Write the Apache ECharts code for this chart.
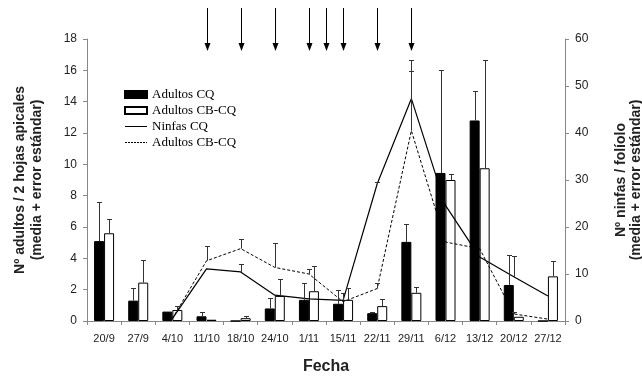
<!DOCTYPE html>
<html>
<head>
<meta charset="utf-8">
<script src="https://cdn.jsdelivr.net/npm/echarts@6/dist/echarts.min.js"></script>
<style>
  html, body { margin: 0; padding: 0; background: #fff; }
  #chart { width: 642px; height: 378px; }
</style>
</head>
<body>
<div id="chart"></div>
<script>
// fechas de muestreo
var fechas = ['20/9', '27/9', '4/10', '11/10', '18/10', '24/10', '1/11', '15/11', '22/11', '29/11', '6/12', '13/12', '20/12', '27/12'];

// adultos / 2 hojas apicales (eje izquierdo)
var adultosCQ = [5.1, 1.3, 0.6, 0.3, 0, 0.8, 1.35, 1.1, 0.5, 5.05, 9.45, 12.8, 2.3, 0];
var adultosCQErr = [7.6, 2.1, null, 0.6, null, 1.45, 2.4, 2.0, 0.6, 6.2, 16.0, 14.65, 4.2, null];
var adultosCBCQ = [5.6, 2.45, 0.7, 0.08, 0.18, 1.6, 1.9, 1.35, 0.95, 1.8, 9.0, 9.75, 0.27, 2.85];
var adultosCBCQErr = [6.5, 3.9, 0.95, null, 0.3, 2.65, 3.5, 2.1, 1.4, 2.2, 9.4, 16.65, null, 3.8];

// ninfas / foliolo (eje derecho)
var ninfasCQ = [null, null, 0.5, 11.1, 10.45, 5.5, 4.7, 4.4, 29.2, 47.3, 24.6, 13.6, 9.4, 5.3];
var ninfasCQErr = [null, null, null, null, 12.2, null, null, 6.0, 29.6, 55.5, null, null, 13.9, null];
var ninfasCBCQ = [null, null, 0.5, 12.8, 15.4, 11.4, 10.0, 4.1, 6.9, 40.5, 16.8, 15.4, 1.5, 0.4];
var ninfasCBCQErr = [null, null, null, 15.9, 17.4, 16.7, 11.0, null, 8.0, 53.1, null, null, 2.0, null];

// flechas (posicion en indice de fecha; 6.5 = 8/11)
var flechas = [3, 4, 5, 6, 6.5, 7, 8, 9];

var chart = echarts.init(document.getElementById('chart'));

function errData(vals, errs) {
    var res = [];
    for (var i = 0; i < vals.length; i++) {
        if (errs[i] != null && vals[i] != null) res.push([i, vals[i], errs[i]]);
    }
    return res;
}

function errRender(offset) {
    return function (params, api) {
        var p = api.coord([api.value(0), api.value(1)]);
        var t = api.coord([api.value(0), api.value(2)]);
        var cx = Math.round(p[0] + offset) + 0.5;
        var ty = Math.round(t[1]) + 0.5;
        var st = { stroke: '#333', lineWidth: 1 };
        return {
            type: 'group',
            children: [
                { type: 'line', shape: { x1: cx, y1: p[1], x2: cx, y2: ty }, style: st },
                { type: 'line', shape: { x1: cx - 2.5, y1: ty, x2: cx + 2.5, y2: ty }, style: st }
            ]
        };
    };
}

var ejeFont = 'Liberation Sans, Arial, sans-serif';
var sinSimbolo = { color: 'rgba(0,0,0,0)', borderWidth: 0 };

var option = {
    animation: false,
    backgroundColor: '#fff',
    grid: { left: 87, right: 77, top: 39, bottom: 57, outerBoundsMode: 'none', containLabel: false },
    legend: {
        orient: 'vertical',
        left: 119,
        top: 83,
        itemWidth: 22,
        itemHeight: 7,
        itemGap: 3,
        textStyle: { fontFamily: 'Liberation Serif, Times New Roman, serif', fontSize: 13, color: '#000' },
        data: [
            { name: 'Adultos CQ', icon: 'rect' },
            { name: 'Adultos CB-CQ', icon: 'rect' },
            { name: 'Ninfas CQ', itemStyle: sinSimbolo, lineStyle: { width: 1, type: 'solid' } },
            { name: 'Adultos CB-CQ ', itemStyle: sinSimbolo, lineStyle: { width: 1, type: [2, 1] } }
        ]
    },
    xAxis: [{
        type: 'category',
        data: fechas,
        name: 'Fecha',
        nameLocation: 'middle',
        nameGap: 38,
        nameTextStyle: { fontFamily: ejeFont, fontSize: 16, fontWeight: 'bold', color: '#222' },
        axisLine: { onZero: false, lineStyle: { color: '#888', width: 1 } },
        axisTick: { show: true, length: 4, lineStyle: { color: '#888' } },
        axisLabel: { interval: 0, margin: 12, fontFamily: ejeFont, fontSize: 11, color: '#222' },
        splitLine: { show: false }
    }, {
        type: 'value',
        min: -0.5,
        max: 13.5,
        show: false
    }],
    yAxis: [{
        type: 'value',
        min: 0,
        max: 18,
        interval: 2,
        name: 'Nº adultos / 2 hojas apicales\n(media + error estándar)',
        nameLocation: 'middle',
        nameRotate: 90,
        nameGap: 41,
        nameTextStyle: { fontFamily: ejeFont, fontSize: 14, fontWeight: 'bold', color: '#222', lineHeight: 17 },
        axisLine: { show: true, onZero: false, lineStyle: { color: '#888' } },
        axisTick: { show: true, length: 4, lineStyle: { color: '#888' } },
        axisLabel: { margin: 10, fontFamily: ejeFont, fontSize: 12, color: '#222' },
        splitLine: { show: false }
    }, {
        type: 'value',
        min: 0,
        max: 60,
        interval: 10,
        position: 'right',
        name: 'Nº ninfas / folíolo\n(media + error estándar)',
        nameLocation: 'middle',
        nameRotate: 90,
        nameGap: 49,
        nameTextStyle: { fontFamily: ejeFont, fontSize: 14, fontWeight: 'bold', color: '#222', lineHeight: 15 },
        axisLine: { show: true, onZero: false, lineStyle: { color: '#888' } },
        axisTick: { show: true, length: 4, lineStyle: { color: '#888' } },
        axisLabel: { margin: 10, fontFamily: ejeFont, fontSize: 12, color: '#222' },
        splitLine: { show: false }
    }],
    series: [
        {
            name: 'Adultos CQ',
            type: 'bar',
            barWidth: 10,
            barGap: '0%',
            data: adultosCQ,
            itemStyle: { color: '#000', borderColor: '#000', borderWidth: 1 }
        },
        {
            name: 'Adultos CB-CQ',
            type: 'bar',
            barWidth: 10,
            barGap: '0%',
            data: adultosCBCQ,
            itemStyle: { color: '#fff', borderColor: '#000', borderWidth: 1 }
        },
        {
            name: 'Ninfas CQ',
            type: 'line',
            yAxisIndex: 1,
            symbol: 'none',
            data: ninfasCQ,
            lineStyle: { color: '#000', width: 1.2, type: 'solid' },
            itemStyle: { color: '#000' },
            z: 3
        },
        {
            name: 'Adultos CB-CQ ',
            type: 'line',
            yAxisIndex: 1,
            symbol: 'none',
            data: ninfasCBCQ,
            lineStyle: { color: '#000', width: 1, type: [3, 2] },
            itemStyle: { color: '#000' },
            z: 3
        },
        {
            type: 'custom',
            renderItem: errRender(-5),
            data: errData(adultosCQ, adultosCQErr),
            z: 4
        },
        {
            type: 'custom',
            renderItem: errRender(5),
            data: errData(adultosCBCQ, adultosCBCQErr),
            z: 4
        },
        {
            type: 'custom',
            yAxisIndex: 1,
            renderItem: errRender(0),
            data: errData(ninfasCQ, ninfasCQErr),
            z: 4
        },
        {
            type: 'custom',
            yAxisIndex: 1,
            renderItem: errRender(0),
            data: errData(ninfasCBCQ, ninfasCBCQErr),
            z: 4
        },
        {
            type: 'custom',
            xAxisIndex: 1,
            clip: false,
            data: flechas.map(function (v) { return [v]; }),
            renderItem: function (params, api) {
                var x = Math.round(api.coord([api.value(0), 0])[0]) + 0.5;
                return {
                    type: 'group',
                    children: [
                        { type: 'line', shape: { x1: x, y1: 8, x2: x, y2: 45 }, style: { stroke: '#000', lineWidth: 1 } },
                        { type: 'polygon', shape: { points: [[x - 3, 43], [x + 3, 43], [x, 51]] }, style: { fill: '#000' } }
                    ]
                };
            },
            z: 5
        }
    ]
};

chart.setOption(option);
</script>
</body>
</html>
